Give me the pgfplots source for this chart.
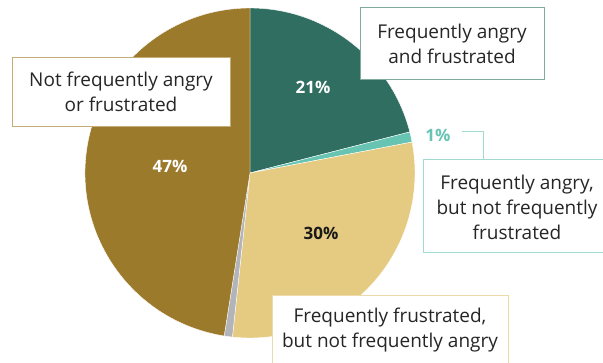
\documentclass[border=0pt]{standalone}
\usepackage{pgfplots}
\pgfplotsset{compat=1.18}
\usepackage{fontspec}
\setmainfont{Open Sans}
\definecolor{cGreen}{RGB}{47,110,96}
\definecolor{cTeal}{RGB}{104,196,178}
\definecolor{cTan}{RGB}{229,202,130}
\definecolor{cGray}{RGB}{178,180,186}
\definecolor{cGold}{RGB}{156,122,44}
\definecolor{bGold}{RGB}{196,172,118}
\definecolor{bGreen}{RGB}{128,170,156}
\definecolor{bTeal}{RGB}{160,218,206}
\definecolor{bTan}{RGB}{236,218,168}
% shares (percent) as drawn, clockwise from the top
\def\vA{21}   % Frequently angry and frustrated
\def\vB{1}    % Frequently angry, not frustrated
\def\vC{29.7} % Frequently frustrated, not angry
\def\vD{0.8}  % No answer
\def\vE{47.5} % Not frequently angry or frustrated
\pgfmathsetmacro\aO{90}
\pgfmathsetmacro\aA{\aO-3.6*\vA}
\pgfmathsetmacro\aB{\aA-3.6*\vB}
\pgfmathsetmacro\aC{\aB-3.6*\vC}
\pgfmathsetmacro\aD{\aC-3.6*\vD}
\pgfmathsetmacro\aE{\aD-3.6*\vE}
\newcommand\slice[3]{\fill[#3, draw=white, line width=0.4pt] (axis cs:250,189) -- ++(#1:165pt) arc[start angle=#1, end angle=#2, radius=165pt] -- cycle;}
\begin{document}
\begin{tikzpicture}
\begin{axis}[x=1pt, y=1pt, xmin=0, xmax=603, ymin=0, ymax=362,
  hide axis, scale only axis, clip=false]
\slice{\aO}{\aA}{cGreen}
\slice{\aA}{\aB}{cTeal}
\slice{\aB}{\aC}{cTan}
\slice{\aC}{\aD}{cGray}
\slice{\aD}{\aE}{cGold}
\begin{scope}[font=\fontsize{19}{25}\selectfont]
% boxes
\draw[bGold, fill=white, line width=1pt] (axis cs:12,304) rectangle (axis cs:230,235);
\node[align=center, text=black!85] at (axis cs:121,270) {Not frequently angry\\or frustrated};
\draw[bGreen, fill=white, line width=1pt] (axis cs:360,354) rectangle (axis cs:544,282);
\node[align=center, text=black!85] at (axis cs:452,318) {Frequently angry\\and frustrated};
\draw[bTeal, fill=white, line width=1pt] (axis cs:423,202) rectangle (axis cs:614,109);
\node[align=center, text=black!85] at (axis cs:517,155) {Frequently angry,\\but not frequently\\frustrated};
\draw[bTan, fill=white, line width=1pt] (axis cs:272,67) rectangle (axis cs:508,-10);
\node[align=center, text=black!85] at (axis cs:390,32) {Frequently frustrated,\\but not frequently angry};
% connector
\draw[bTeal, line width=1pt] (axis cs:462,230) -- (axis cs:483,230) -- (axis cs:483,202);
% percentages
\node[font=\fontsize{17}{20}\selectfont\bfseries, text=white] at (axis cs:313,275) {21\%};
\node[font=\fontsize{17}{20}\selectfont\bfseries, text=white] at (axis cs:170,196) {47\%};
\node[font=\fontsize{17}{20}\selectfont\bfseries, text=black!90] at (axis cs:321,129) {30\%};
\node[font=\fontsize{17}{20}\selectfont\bfseries, text=cTeal] at (axis cs:438,227) {1\%};
\end{scope}
\end{axis}
\pgfresetboundingbox
\path (0,0) rectangle (603pt,362pt);
\end{tikzpicture}
\end{document}
